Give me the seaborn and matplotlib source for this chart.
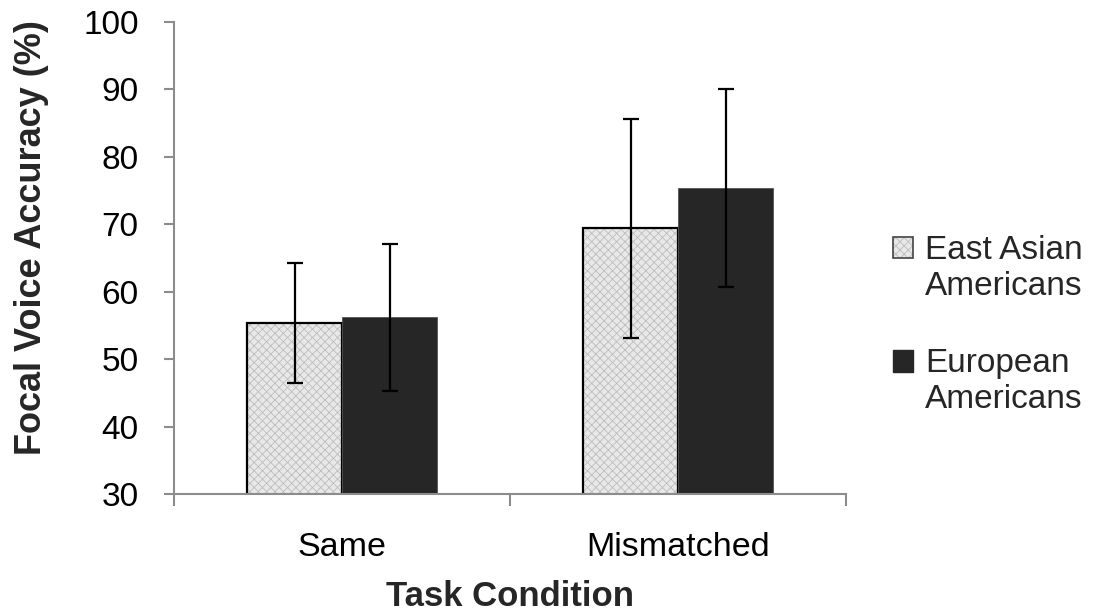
import matplotlib
matplotlib.use("Agg")
import matplotlib.pyplot as plt
import seaborn as sns
import pandas as pd
from matplotlib.colors import to_rgba
from matplotlib.patches import Patch
from matplotlib.legend_handler import HandlerPatch

conditions = ["Same", "Mismatched"]
groups = ["East Asian\nAmericans", "European\nAmericans"]
east_asian_mean = [55.4, 69.4]
european_mean = [56.2, 75.4]
east_asian_err = [8.9, 16.2]
european_err = [10.9, 14.7]

sns.set_theme(style="white")
plt.rcParams['font.family'] = ['Liberation Sans', 'DejaVu Sans']
plt.rcParams['hatch.linewidth'] = 0.6

EA_FACE = "#e8e8e8"
EA_HATCH = "#bdbdbd"
EU_FACE = "#262626"

df = pd.DataFrame({
    "Condition": conditions * 2,
    "Group": [groups[0]] * 2 + [groups[1]] * 2,
    "Accuracy": east_asian_mean + european_mean,
})
errs = {(groups[0], c): e for c, e in zip(conditions, east_asian_err)}
errs.update({(groups[1], c): e for c, e in zip(conditions, european_err)})

fig = plt.figure(figsize=(11.12, 6.13), dpi=100)
ax = fig.add_axes([0.1565, 0.194, 0.6045, 0.77])

palette = {groups[0]: EA_FACE, groups[1]: EU_FACE}
sns.barplot(data=df, x="Condition", y="Accuracy", hue="Group", order=conditions,
            hue_order=groups, palette=palette, width=0.565, errorbar=None,
            saturation=1, ax=ax, legend=False)


def set_hatch_color(p, color):
    if hasattr(p, "set_hatchcolor"):
        p.set_hatchcolor(color)
    else:
        p._hatch_color = to_rgba(color)


for i, p in enumerate(list(ax.patches)[:4]):
    gi = i // 2
    ci = i % 2
    if gi == 0:
        p.set_hatch("xxxx")
        p.set_edgecolor("black")
        p.set_linewidth(1.6)
        set_hatch_color(p, EA_HATCH)
    else:
        p.set_edgecolor("#555555")
        p.set_linewidth(0.6)
    cx = p.get_x() + p.get_width() / 2
    h = p.get_y() + p.get_height()
    ax.errorbar(cx, h, yerr=errs[(groups[gi], conditions[ci])], color="black",
                capsize=6, elinewidth=1.6, capthick=1.6, zorder=5)

ax.set_ylim(30, 100)
ax.set_xlim(-0.5, 1.5)
ax.set_yticks(range(30, 101, 10))
for s in ["top", "right"]:
    ax.spines[s].set_visible(False)
for s in ["left", "bottom"]:
    ax.spines[s].set_color("#8c8c8c")
    ax.spines[s].set_linewidth(1.5)
ax.tick_params(axis="y", which="major", left=True, length=7.5, width=1.5,
               color="#8c8c8c", labelsize=24, pad=18, labelcolor="black")
ax.tick_params(axis="x", which="major", bottom=False, length=0, labelsize=24.5,
               pad=27, labelcolor="black")
ax.set_xticks([-0.5, 0.5, 1.5], minor=True)
ax.tick_params(axis="x", which="minor", bottom=True, length=8.5, width=1.5,
               color="#8c8c8c")

ax.set_ylabel("Focal Voice Accuracy (%)", fontsize=26, fontweight="bold")
ax.set_xlabel("Task Condition", fontsize=25, fontweight="bold")
ax.yaxis.set_label_coords(-0.212, 0.543)
ax.yaxis.label.set_va("center")
ax.xaxis.set_label_coords(0.5, -0.217)
ax.xaxis.label.set_va("center")


class TopHandler(HandlerPatch):
    def __init__(self, dy, **kw):
        super().__init__(**kw)
        self.dy = dy

    def create_artists(self, legend, orig_handle, xdescent, ydescent, width,
                       height, fontsize, trans):
        return super().create_artists(legend, orig_handle, xdescent,
                                      ydescent - self.dy, width, height,
                                      fontsize, trans)


h_ea = Patch(facecolor=EA_FACE, edgecolor="#444444", hatch="xxxx", linewidth=1.2)
set_hatch_color(h_ea, EA_HATCH)
h_eu = Patch(facecolor=EU_FACE, edgecolor=EU_FACE)
handler = TopHandler(15.0)
leg = fig.legend([h_ea, h_eu], groups, loc="center left",
                 bbox_to_anchor=(0.803, 0.47), frameon=False, fontsize=24,
                 handlelength=0.6, handleheight=0.6, handletextpad=0.36,
                 labelspacing=1.4, borderpad=0, borderaxespad=0,
                 handler_map={Patch: handler})

fig.savefig("out.png", dpi=100)
